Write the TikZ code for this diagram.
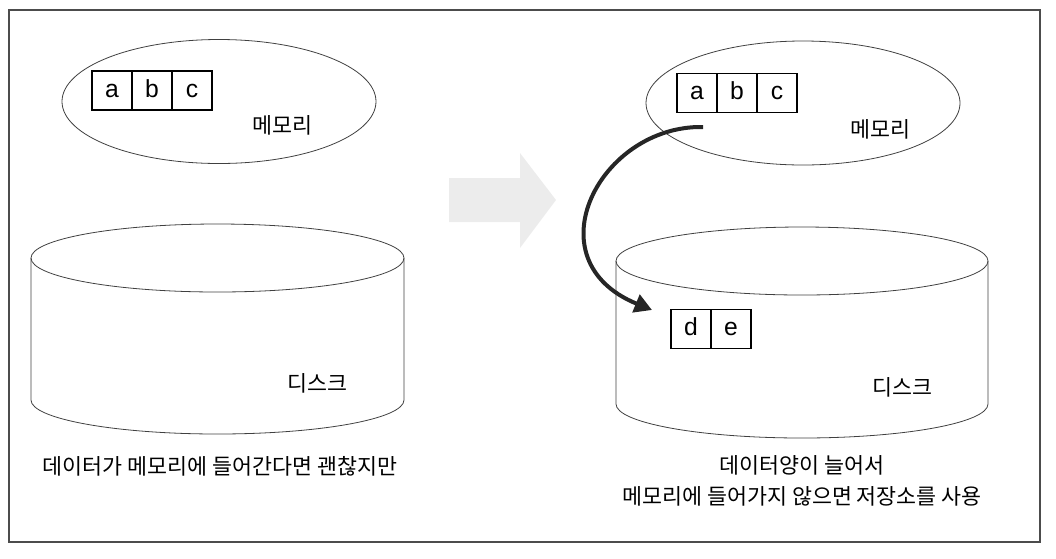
\documentclass[tikz,border=0pt]{standalone}
\usepackage{fontspec}
\setmainfont{Noto Sans CJK KR}
\newfontfamily\latinfont{Liberation Sans}
\usetikzlibrary{arrows.meta,shapes.geometric}
\begin{document}
\begin{tikzpicture}[x=0.75pt,y=-0.75pt,
  txt/.style={font=\fontsize{16.3pt}{19pt}\selectfont, inner sep=0pt},
  cell/.style={draw, line width=1.1pt, minimum width=30pt, minimum height=29pt, inner sep=0pt, text height=10pt, text depth=0pt, font=\latinfont\fontsize{18.5pt}{20pt}\selectfont},
  memory/.style={draw=black!75, line width=0.6pt, ellipse, minimum width=235.5pt, minimum height=93pt, inner sep=0pt},
  thin/.style={draw=black!75, line width=0.6pt},
  curvearrow/.style={draw=black!85, line width=3pt, -{Triangle[length=13pt,width=14pt]}},
  bigarrow/.style={fill=gray!15, draw=none}
]
\useasboundingbox (0,0) rectangle (1056,558);
% frame
\draw[draw=black!70, line width=0.8pt] (9,10) rectangle (1040,542);

% left memory
\node[memory] (mem1) at (219,101.5) {};
\node[cell] (a1) at (112,90.5) {a};
\node[cell] (b1) at (152,90.5) {b};
\node[cell] (c1) at (192,90.5) {c};
\node[txt] (m1) at (282,125) {메모리};

% left disk
\draw[thin] (217.5,258) ellipse [x radius=186.5, y radius=34];
\draw[thin] (31,258) -- (31,400) arc[start angle=180, end angle=360, x radius=186.5, y radius=-34] -- (404,258);
\node[txt] (d1) at (317,383) {디스크};
\node[txt] (cap1) at (220,466) {데이터가 메모리에 들어간다면 괜찮지만};

% big gray arrow
\fill[bigarrow] (449,178) -- (520,178) -- (520,153) -- (556,200) -- (520,248) -- (520,222) -- (449,222) -- cycle;

% right memory
\node[memory] (mem2) at (803,103) {};
\node[cell] (a2) at (697,93) {a};
\node[cell] (b2) at (737,93) {b};
\node[cell] (c2) at (777,93) {c};
\node[txt] (m2) at (880,129) {메모리};

% right disk
\draw[thin] (802,261) ellipse [x radius=186, y radius=34];
\draw[thin] (616,261) -- (616,404) arc[start angle=180, end angle=360, x radius=186, y radius=-34] -- (988,261);
\node[cell] (d2) at (691,329) {d};
\node[cell] (e2) at (731,329) {e};
\node[txt] (k2) at (902,387) {디스크};
\node[txt] (cap2a) at (802,465) {데이터양이 늘어서};
\node[txt] (cap2b) at (802,496) {메모리에 들어가지 않으면 저장소를 사용};

% curved arrow
\coordinate (s) at (703,127);
\coordinate (t) at (652,310);
\draw[curvearrow] (s) .. controls (600,125) and (530,260) .. (t);
\end{tikzpicture}
\end{document}
